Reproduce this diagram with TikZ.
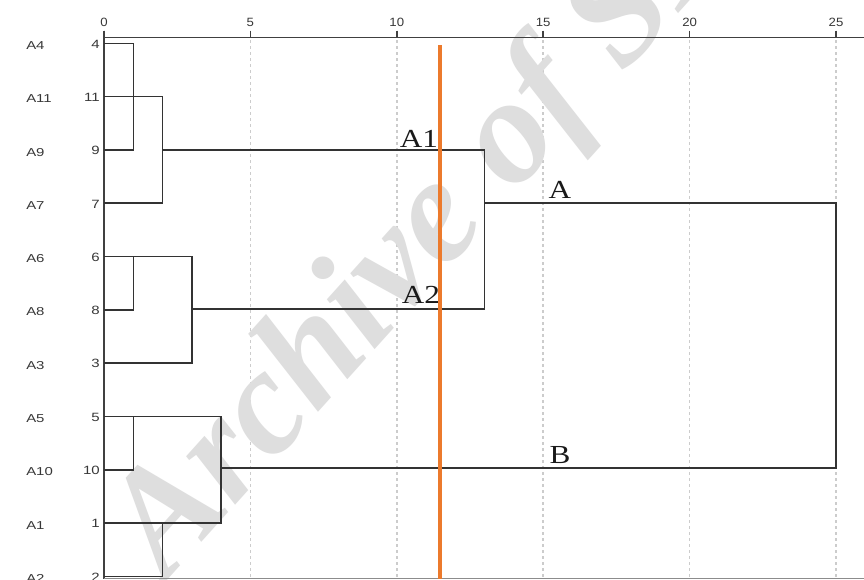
\documentclass[tikz,border=0pt]{standalone}
\usepackage{fontspec}
\setmainfont{Liberation Serif}
\newfontfamily\labelfont{Liberation Sans}
\definecolor{cutorange}{HTML}{EC7A2C}
\begin{document}
\begin{tikzpicture}[x=1pt,y=-1pt,
  axisline/.style={draw=black!75, line width=1.5pt},
  gridline/.style={draw=black!20, line width=1.5pt, dash pattern=on 3pt off 3pt},
  branch/.style={draw=black!80, line width=1.6pt},
  ticktext/.style={font=\labelfont\fontsize{12}{12}\selectfont, text=black!78, inner sep=0pt, xscale=1.1},
  casetext/.style={font=\labelfont\fontsize{11.5}{12}\selectfont, text=black!78, inner sep=0pt, xscale=1.3},
  numtext/.style={font=\labelfont\fontsize{12}{12}\selectfont, text=black!78, inner sep=0pt, xscale=1.25},
  grouptext/.style={font=\fontsize{26}{26}\selectfont, text=black!90, inner sep=0pt, xscale=1.2, anchor=base},
  cutline/.style={draw=cutorange, line width=3.5pt},
  watermark/.style={font=\bfseries\itshape\fontsize{150}{150}\selectfont, text=black!13, inner sep=0pt, anchor=base west, rotate=48}
]
\useasboundingbox (0,0) rectangle (864,579);
\fill[white] (0,0) rectangle (864,579);

% dotted guide lines every 5 units
\foreach \v in {5,10,...,25} {
  \draw[gridline] ({104+29.28*\v},40) -- ({104+29.28*\v},579);
}

% background watermark
\node[watermark] (wm) at (166,582) {Archive of SID};

% distance scale
\coordinate (ax0) at (104,37.7);
\coordinate (axR) at (864,37.7);
\coordinate (ayT) at (104,30.5);
\coordinate (ayB) at (104,579);
\coordinate (bx0) at (104,578);
\coordinate (bxR) at (864,578);
\draw[axisline] (ax0) -- (axR);
\draw[axisline, line width=1.8pt] (ayT) -- (ayB);
\draw[draw=black!45, line width=1pt] (bx0) -- (bxR);
\foreach \v in {0,5,...,25} {
  \draw[axisline] ({104+29.28*\v},30.5) -- ({104+29.28*\v},37.7);
  \node[ticktext] (t\v) at ({104+29.28*\v},22.5) {\v};
}

% leaves: case label, case number, start of branch
\foreach \name/\num/\row in {A4/4/0, A11/11/1, A9/9/2, A7/7/3, A6/6/4, A8/8/5, A3/3/6, A5/5/7, A10/10/8, A1/1/9, A2/2/10} {
  \coordinate (L\num) at (104,{43.3+53.3*\row});
  \node[casetext, anchor=west] (n\name) at (26,{45.5+53.3*\row}) {\name};
  \node[numtext, anchor=east] (k\num) at (100,{44+53.3*\row}) {\num};
}

% merge points
\coordinate (J49) at (133.3,96.7);
\coordinate (J1) at (162.3,149.7);
\coordinate (J68) at (133.3,282.2);
\coordinate (J2) at (191.7,308.7);
\coordinate (J510) at (133.3,441);
\coordinate (J12) at (162.3,546.7);
\coordinate (J3) at (220.7,467.7);
\coordinate (JA) at (484.3,202.7);
\coordinate (JR) at (836,335);

% branches
\draw[branch] (L4) -| (J49) |- (L9);
\draw[branch] (L11) -| (J1) |- (L7);
\draw[branch] (L6) -| (J68) |- (L8);
\draw[branch] (L6) -| (J2) |- (L3);
\draw[branch] (L5) -| (J510) |- (L10);
\draw[branch] (L1) -| (J12) |- (L2);
\draw[branch] (L5) -| (J3) |- (L1);
\draw[branch] (J1) -| (JA) |- (J2);
\draw[branch] (JA) -| (JR) |- (J3);

% group names
\node[grouptext] (gA1) at (419,147) {A1};
\node[grouptext] (gA2) at (421,303) {A2};
\node[grouptext] (gA) at (560,198) {A};
\node[grouptext] (gB) at (560,463) {B};

% cut line
\coordinate (cutT) at (440,45);
\coordinate (cutB) at (440,579);
\draw[cutline] (cutT) -- (cutB);
\end{tikzpicture}
\end{document}
